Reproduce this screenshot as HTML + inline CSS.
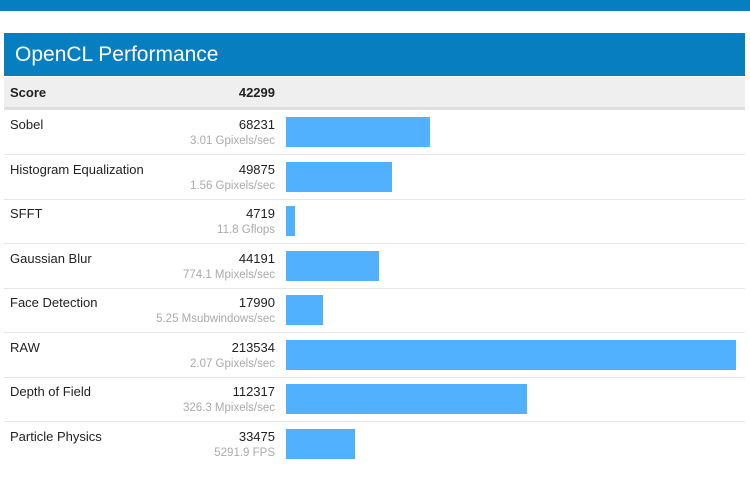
<!DOCTYPE html><html><head><style>
body{margin:0;width:750px;height:489px;background:#fff;font-family:"Liberation Sans",sans-serif;position:relative;overflow:hidden}
.top{position:absolute;left:0;top:0;width:750px;height:11px;background:#067ebf}
.hd{position:absolute;left:4px;top:33px;width:741px;height:43px;background:#067ebf;color:#fff;font-size:21px;line-height:43px;padding-left:11px;box-sizing:border-box}
.sc{position:absolute;left:4px;top:77px;width:741px;height:30px;background:#efefef;border-bottom:3px solid #dedede;font-weight:bold;font-size:13px;color:#222}
.row{position:absolute;left:4px;width:741px;height:44px;border-bottom:1px solid #e6e6e6;font-size:13px;color:#222}
.n{position:absolute;left:6px;top:7px}
.v{position:absolute;right:470px;top:7px}
.u{position:absolute;right:470px;top:25px;font-size:11.5px;color:#aaa}
.b{position:absolute;left:282px;top:7px;height:30px;background:#52b1ff}
</style></head><body>
<div class="top"></div>
<div class="hd">OpenCL Performance</div>
<div class="sc"><span style="position:absolute;left:6px;top:8px">Score</span><span style="position:absolute;right:470px;top:8px">42299</span></div>
<div class="row" style="top:110px"><span class="n">Sobel</span><span class="v">68231</span><span class="u">3.01 Gpixels/sec</span><div class="b" style="width:144px"></div></div>
<div class="row" style="top:155px"><span class="n">Histogram Equalization</span><span class="v">49875</span><span class="u">1.56 Gpixels/sec</span><div class="b" style="width:106px"></div></div>
<div class="row" style="top:199px"><span class="n">SFFT</span><span class="v">4719</span><span class="u">11.8 Gflops</span><div class="b" style="width:9px"></div></div>
<div class="row" style="top:244px"><span class="n">Gaussian Blur</span><span class="v">44191</span><span class="u">774.1 Mpixels/sec</span><div class="b" style="width:93px"></div></div>
<div class="row" style="top:288px"><span class="n">Face Detection</span><span class="v">17990</span><span class="u">5.25 Msubwindows/sec</span><div class="b" style="width:37px"></div></div>
<div class="row" style="top:333px"><span class="n">RAW</span><span class="v">213534</span><span class="u">2.07 Gpixels/sec</span><div class="b" style="width:450px"></div></div>
<div class="row" style="top:377px"><span class="n">Depth of Field</span><span class="v">112317</span><span class="u">326.3 Mpixels/sec</span><div class="b" style="width:241px"></div></div>
<div class="row" style="top:422px;border-bottom:none"><span class="n">Particle Physics</span><span class="v">33475</span><span class="u">5291.9 FPS</span><div class="b" style="width:69px"></div></div>
</body></html>
